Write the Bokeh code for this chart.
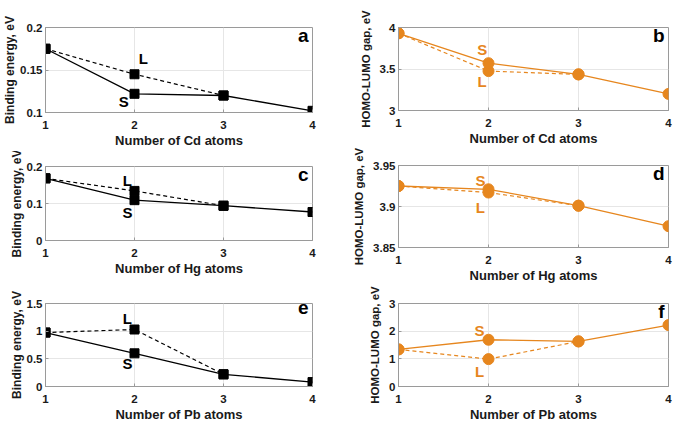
from bokeh.plotting import figure
from bokeh.layouts import column, row
from bokeh.models import FixedTicker, Range1d
from bokeh.core.properties import value
from bokeh.embed import file_html
from bokeh.resources import INLINE

# ---------------- data ----------------
x_all = [1, 2, 3, 4]
x_L = [1, 2, 3]
x_ticks = [1, 2, 3, 4]
x_tick_labels = ["1", "2", "3", "4"]

be_cd_S = [0.175, 0.122, 0.120, 0.102]
be_cd_L = [0.175, 0.145, 0.120]
gap_cd_S = [3.93, 3.57, 3.435, 3.20]
gap_cd_L = [3.93, 3.475, 3.435]

be_hg_S = [0.168, 0.109, 0.094, 0.077]
be_hg_L = [0.168, 0.134, 0.094]
gap_hg_S = [3.925, 3.921, 3.901, 3.876]
gap_hg_L = [3.925, 3.917, 3.901]

be_pb_S = [0.975, 0.60, 0.22, 0.08]
be_pb_L = [0.975, 1.03, 0.22]
gap_pb_S = [1.34, 1.69, 1.63, 2.22]
gap_pb_L = [1.34, 0.99, 1.63]

yt_a = [0.1, 0.15, 0.2]; yl_a = ["0.1", "0.15", "0.2"]
yt_b = [3, 3.5, 4]; yl_b = ["3", "3.5", "4"]
yt_c = [0, 0.1, 0.2]; yl_c = ["0", "0.1", "0.2"]
yt_d = [3.85, 3.9, 3.95]; yl_d = ["3.85", "3.9", "3.95"]
yt_e = [0, 0.5, 1, 1.5]; yl_e = ["0", "0.5", "1", "1.5"]
yt_f = [0, 1, 2, 3]; yl_f = ["0", "1", "2", "3"]

# S / L annotation positions (data coords): [xS, yS, xL, yL]
ann_a = [1.88, 0.113, 2.1, 0.163]
ann_b = [1.93, 3.73, 1.93, 3.35]
ann_c = [1.92, 0.076, 1.92, 0.162]
ann_d = [1.91, 3.932, 1.91, 3.899]
ann_e = [1.92, 0.41, 1.92, 1.22]
ann_f = [1.9, 2.01, 1.9, 0.56]

FONT = "Liberation Sans"
BLACK = "#000000"
ORANGE = "#E6861E"
GRID = "#E6E6E6"
FRAME = "#9A9A9A"


def panel(w, h, mbl, mbr, mbt, mbb, yt, yl, xlab, ylab, ylab_size, ylab_standoff,
          yS, yL, color, marker, msize, letter, ann):
    p = figure(width=w, height=h, output_backend="svg", toolbar_location=None,
               x_range=Range1d(1, 4), y_range=Range1d(yt[0], yt[-1]),
               min_border_left=mbl, min_border_right=mbr,
               min_border_top=mbt, min_border_bottom=mbb)
    p.outline_line_color = FRAME
    p.outline_line_width = 1
    p.background_fill_color = "white"
    p.border_fill_color = "white"
    p.xaxis.ticker = FixedTicker(ticks=x_ticks)
    p.xaxis.major_label_overrides = dict(zip([float(t) for t in x_ticks], x_tick_labels))
    p.yaxis.ticker = FixedTicker(ticks=yt)
    p.yaxis.major_label_overrides = dict(zip([float(t) for t in yt], yl))
    for ax in (p.xaxis[0], p.yaxis[0]):
        ax.axis_line_color = FRAME
        ax.major_tick_line_color = FRAME
        ax.major_tick_in = 3
        ax.major_tick_out = 0
        ax.minor_tick_line_color = None
        ax.major_label_text_font = FONT
        ax.major_label_text_font_style = "bold"
        ax.major_label_text_font_size = "11.5px"
        ax.major_label_text_color = "#1a1a1a"
        ax.axis_label_text_font = FONT
        ax.axis_label_text_font_style = "bold"
        ax.axis_label_text_color = "#1a1a1a"
    p.xaxis.axis_label_text_font_size = "13px"
    p.yaxis.axis_label_text_font_size = ylab_size
    p.xaxis.major_label_standoff = 8
    p.xaxis.axis_label_standoff = 1
    p.yaxis.major_label_standoff = 3
    p.yaxis.axis_label_standoff = ylab_standoff
    p.xaxis.axis_label = xlab
    p.yaxis.axis_label = ylab
    p.xgrid.ticker = FixedTicker(ticks=x_ticks)
    p.ygrid.ticker = FixedTicker(ticks=yt)
    p.xgrid.grid_line_color = GRID
    p.ygrid.grid_line_color = GRID

    p.line(x_L, yL, line_color=color, line_width=1.2, line_dash="4 3")
    p.line(x_all, yS, line_color=color, line_width=1.3)
    p.scatter(x_L, yL, marker=marker, size=msize, fill_color=color, line_color=color)
    p.scatter(x_all, yS, marker=marker, size=msize, fill_color=color, line_color=color)

    p.text(x=[ann[0], ann[2]], y=[ann[1], ann[3]], text=["S", "L"],
           text_color=color, text_font=value(FONT), text_font_style="bold",
           text_font_size="15px", text_align="center", text_baseline="middle")
    p.text(x=[4], y=[yt[-1]], text=[letter], text_color=BLACK,
           text_font=value(FONT), text_font_style="bold", text_font_size="19px",
           text_align="right", text_baseline="top", x_offset=-4, y_offset=-3)
    return p


BE = "Binding energy, eV"
GAP = "HOMO-LUMO gap, eV"

# left column (x 0..340), right column (x 340..675)
pa = panel(340, 151, 42, 28, 27, 39, yt_a, yl_a, "Number of Cd atoms", BE, "12px", 0,
           be_cd_S, be_cd_L, BLACK, "square", 9, "a", ann_a)
pc = panel(340, 132, 42, 28, 15, 43, yt_c, yl_c, "Number of Hg atoms", BE, "12px", 0,
           be_hg_S, be_hg_L, BLACK, "square", 9, "c", ann_c)
pe = panel(340, 141, 42, 28, 20, 36, yt_e, yl_e, "Number of Pb atoms", BE, "12px", 0,
           be_pb_S, be_pb_L, BLACK, "square", 9, "e", ann_e)

pb = panel(335, 148, 58, 7, 27, 36, yt_b, yl_b, "Number of Cd atoms", GAP, "11.5px", 5,
           gap_cd_S, gap_cd_L, ORANGE, "circle", 11, "b", ann_b)
pd = panel(335, 137, 58, 7, 17, 35, yt_d, yl_d, "Number of Hg atoms", GAP, "11.5px", 5,
           gap_hg_S, gap_hg_L, ORANGE, "circle", 11, "d", ann_d)
pf = panel(335, 139, 58, 7, 18, 36, yt_f, yl_f, "Number of Pb atoms", GAP, "11.5px", 5,
           gap_pb_S, gap_pb_L, ORANGE, "circle", 11, "f", ann_f)

layout = row(column(pa, pc, pe), column(pb, pd, pf))

open("out.html", "w").write(file_html(layout, INLINE))
